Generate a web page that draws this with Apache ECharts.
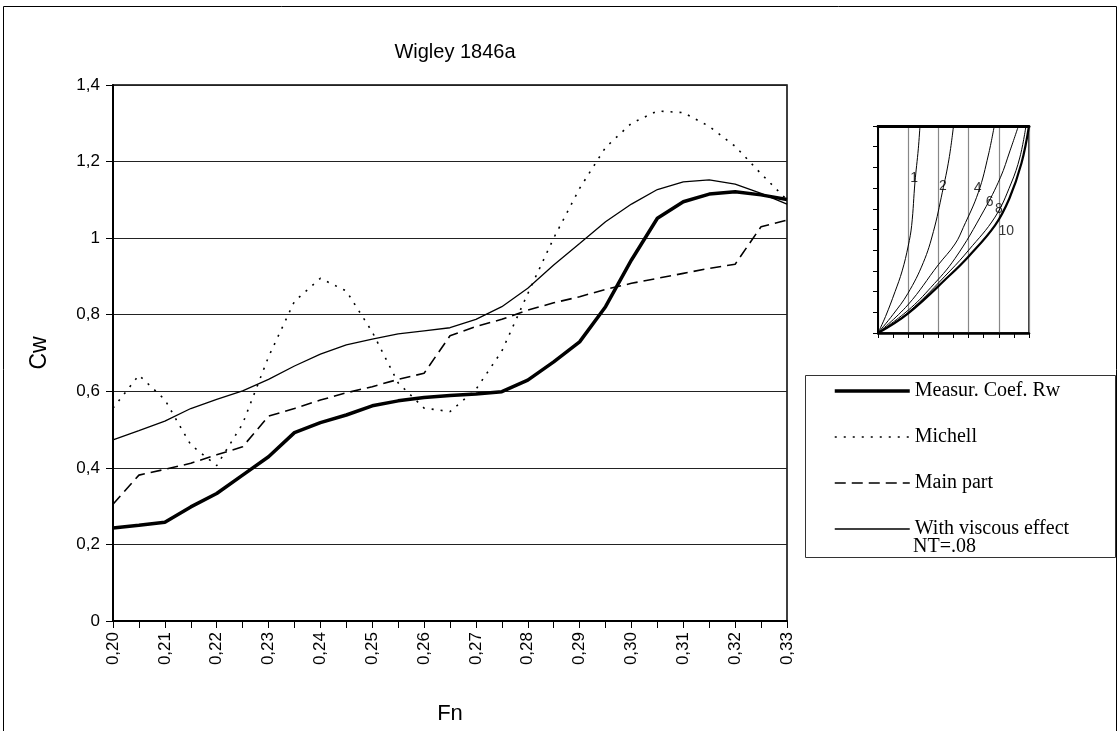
<!DOCTYPE html>
<html>
<head>
<meta charset="utf-8">
<script src="https://cdn.jsdelivr.net/npm/echarts@6/dist/echarts.min.js"></script>
<style>
  html, body { margin: 0; padding: 0; background: #fff; }
  #chart { width: 1120px; height: 731px; }
</style>
</head>
<body>
<div id="chart"></div>
<script>
// Froude numbers (x) and wave resistance coefficients (Cw) for the Wigley 1846a hull
const fn = [0.200, 0.205, 0.210, 0.215, 0.220, 0.225, 0.230, 0.235, 0.240, 0.245,
            0.250, 0.255, 0.260, 0.265, 0.270, 0.275, 0.280, 0.285, 0.290, 0.295,
            0.300, 0.305, 0.310, 0.315, 0.320, 0.325, 0.330];

const measured = [0.243, 0.250, 0.258, 0.298, 0.333, 0.381, 0.429, 0.492, 0.518, 0.538,
                  0.562, 0.575, 0.584, 0.589, 0.593, 0.599, 0.629, 0.677, 0.729, 0.821,
                  0.943, 1.052, 1.095, 1.115, 1.121, 1.113, 1.101];

const michell = [0.556, 0.642, 0.578, 0.460, 0.406, 0.515, 0.690, 0.835, 0.895, 0.862,
                 0.755, 0.622, 0.556, 0.547, 0.605, 0.705, 0.855, 1.000, 1.130, 1.237,
                 1.300, 1.332, 1.328, 1.292, 1.240, 1.168, 1.100];

const mainPart = [0.305, 0.381, 0.396, 0.412, 0.434, 0.455, 0.535, 0.555, 0.577, 0.596,
                  0.612, 0.631, 0.647, 0.745, 0.769, 0.788, 0.812, 0.831, 0.847, 0.866,
                  0.882, 0.895, 0.908, 0.921, 0.932, 1.030, 1.047];

const viscous = [0.473, 0.497, 0.522, 0.555, 0.579, 0.601, 0.631, 0.666, 0.697, 0.721,
                 0.736, 0.750, 0.758, 0.766, 0.788, 0.821, 0.869, 0.930, 0.986, 1.043,
                 1.089, 1.127, 1.147, 1.152, 1.141, 1.117, 1.089];

const seriesNames = ['Measur. Coef. Rw', 'Michell', 'Main part', 'With viscous effect'];
const legendNote = 'NT=.08';

// Small sketch of the hull sections (normalised coordinates)
const curve1 = [[0, 0], [0.05, 0.08], [0.113, 0.2], [0.16, 0.3], [0.2, 0.42], [0.223, 0.52], [0.245, 0.73], [0.267, 0.89], [0.278, 1.0]];
const curve2 = [[0, 0], [0.1, 0.09], [0.197, 0.19], [0.3, 0.34], [0.367, 0.49], [0.426, 0.68], [0.47, 0.84], [0.5, 1.0]];
const curve4 = [[0, 0], [0.197, 0.135], [0.4, 0.33], [0.51, 0.43], [0.565, 0.51], [0.665, 0.68], [0.731, 0.86], [0.77, 1.0]];
const curve6 = [[0, 0], [0.2, 0.11], [0.35, 0.22], [0.51, 0.36], [0.7, 0.59], [0.81, 0.75], [0.874, 0.88], [0.93, 1.0]];
const curve8 = [[0, 0], [0.2, 0.1], [0.477, 0.3], [0.6, 0.4], [0.775, 0.56], [0.88, 0.72], [0.94, 0.85], [0.98, 1.0]];
const curve10 = [[0, 0], [0.2, 0.095], [0.477, 0.28], [0.6, 0.37], [0.775, 0.52], [0.87, 0.65], [0.95, 0.82], [1.0, 1.0]];
const curveLabels = [
  { name: '1', value: [0.24, 0.75] },
  { name: '2', value: [0.43, 0.71] },
  { name: '4', value: [0.66, 0.70] },
  { name: '6', value: [0.74, 0.63] },
  { name: '8', value: [0.80, 0.60] },
  { name: '10', value: [0.85, 0.49] }
];

const pairs = ys => fn.map((x, i) => [x, ys[i]]);
const sans = 'Liberation Sans, Arial, sans-serif';
const serif = 'Liberation Serif, Times New Roman, serif';

function curveSeries(data, width) {
  return {
    type: 'line', xAxisIndex: 1, yAxisIndex: 1, data: data,
    symbol: 'none', smooth: 0.4, silent: true,
    lineStyle: { color: '#000', width: width }
  };
}

const legendLines = [
  { width: 3.5, type: 'solid' },
  { width: 1.6, type: [2, 7] },
  { width: 1.6, type: [11, 6] },
  { width: 1.3, type: 'solid' }
];

const chart = echarts.init(document.getElementById('chart'), null, { renderer: 'canvas' });

chart.setOption({
  animation: false,
  backgroundColor: '#fff',
  title: {
    text: 'Wigley 1846a',
    left: 450, top: 37, textAlign: 'center',
    textStyle: { fontFamily: sans, fontSize: 20, fontWeight: 'normal', color: '#000' }
  },
  legend: {
    data: seriesNames.map((n, i) => ({
      name: n,
      itemStyle: { opacity: 0 },
      lineStyle: { color: '#000', width: legendLines[i].width, type: legendLines[i].type }
    })),
    orient: 'vertical',
    left: 833, top: 381,
    itemWidth: 75, itemHeight: 14, itemGap: 26,
    padding: 0,
    selectedMode: false,
    textStyle: { fontFamily: serif, fontSize: 20, color: '#000' }
  },
  grid: [
    { left: 113, right: 333, top: 85, bottom: 110, show: true, borderColor: '#000', borderWidth: 1.5 },
    { left: 878, top: 126, width: 151, height: 207, show: true, borderColor: '#000', borderWidth: 1.5 }
  ],
  xAxis: [
    {
      type: 'value', gridIndex: 0, min: 0.2, max: 0.33, interval: 0.005,
      name: 'Fn', nameLocation: 'middle', nameGap: 82,
      nameTextStyle: { fontFamily: sans, fontSize: 22, color: '#000' },
      axisLine: { show: true, onZero: false, lineStyle: { color: '#000', width: 2 } },
      axisTick: { show: true, length: 7, lineStyle: { color: '#000', width: 1 } },
      splitLine: { show: false },
      axisLabel: {
        rotate: 90, margin: 11, fontFamily: sans, fontSize: 17, color: '#000',
        formatter: v => (Math.round(v * 1000) % 10 === 0 ? v.toFixed(2).replace('.', ',') : '')
      }
    },
    {
      type: 'value', gridIndex: 1, min: 0, max: 1, interval: 0.2,
      axisLine: { show: true, onZero: false, lineStyle: { color: '#000', width: 2.5 } },
      axisTick: { show: true, length: 5, lineStyle: { color: '#000', width: 1 } },
      minorTick: { show: true, splitNumber: 2, length: 5, lineStyle: { color: '#000', width: 1 } },
      splitLine: { show: true, lineStyle: { color: '#888', width: 1.2 } },
      axisLabel: { show: false }
    },
    {
      type: 'value', gridIndex: 1, position: 'top', min: 0, max: 1,
      axisLine: { show: true, onZero: false, lineStyle: { color: '#000', width: 3 } },
      axisTick: { show: false }, splitLine: { show: false }, axisLabel: { show: false }
    }
  ],
  yAxis: [
    {
      type: 'value', gridIndex: 0, min: 0, max: 1.4, interval: 0.2,
      name: 'Cw', nameLocation: 'middle', nameGap: 62, nameRotate: 90,
      nameTextStyle: { fontFamily: sans, fontSize: 23, color: '#000' },
      axisLine: { show: true, lineStyle: { color: '#000', width: 2 } },
      axisTick: { show: true, length: 7, lineStyle: { color: '#000', width: 1 } },
      splitLine: { show: true, lineStyle: { color: '#222', width: 1 } },
      axisLabel: {
        margin: 13, fontFamily: sans, fontSize: 17, color: '#000',
        formatter: v => String(+v.toFixed(1)).replace('.', ',')
      }
    },
    {
      type: 'value', gridIndex: 1, min: 0, max: 1, interval: 0.1,
      axisLine: { show: true, lineStyle: { color: '#000', width: 2 } },
      axisTick: { show: true, length: 5, lineStyle: { color: '#000', width: 1 } },
      splitLine: { show: false }, axisLabel: { show: false }
    }
  ],
  series: [
    {
      name: seriesNames[0], type: 'line', data: pairs(measured), symbol: 'none',
      lineStyle: { color: '#000', width: 3.5 }, itemStyle: { color: '#000' }, z: 5
    },
    {
      name: seriesNames[1], type: 'line', data: pairs(michell), symbol: 'none',
      lineStyle: { color: '#000', width: 1.6, type: [2, 7] }, itemStyle: { color: '#000' }
    },
    {
      name: seriesNames[2], type: 'line', data: pairs(mainPart), symbol: 'none',
      lineStyle: { color: '#000', width: 1.6, type: [11, 6] }, itemStyle: { color: '#000' }
    },
    {
      name: seriesNames[3], type: 'line', data: pairs(viscous), symbol: 'none',
      lineStyle: { color: '#000', width: 1.3 }, itemStyle: { color: '#000' }
    },
    curveSeries(curve1, 1),
    curveSeries(curve2, 1),
    curveSeries(curve4, 1),
    curveSeries(curve6, 1),
    curveSeries(curve8, 1),
    curveSeries(curve10, 2.2),
    {
      type: 'scatter', xAxisIndex: 1, yAxisIndex: 1, data: curveLabels,
      symbolSize: 0, silent: true,
      label: {
        show: true, position: 'inside', formatter: p => p.name,
        fontFamily: sans, fontSize: 14, color: '#000'
      }
    }
  ],
  graphic: [
    {
      type: 'rect', silent: true, z: -1,
      shape: { x: 3.5, y: 6.5, width: 1113, height: 740 },
      style: { fill: 'none', stroke: '#000', lineWidth: 1 }
    },
    {
      type: 'rect', silent: true,
      shape: { x: 805.5, y: 375.5, width: 310, height: 182 },
      style: { fill: 'none', stroke: '#333', lineWidth: 1 }
    },
    {
      type: 'text', silent: true, left: 913, top: 537,
      style: { text: legendNote, font: '20px ' + serif, fill: '#000' }
    }
  ]
});
</script>
</body>
</html>
